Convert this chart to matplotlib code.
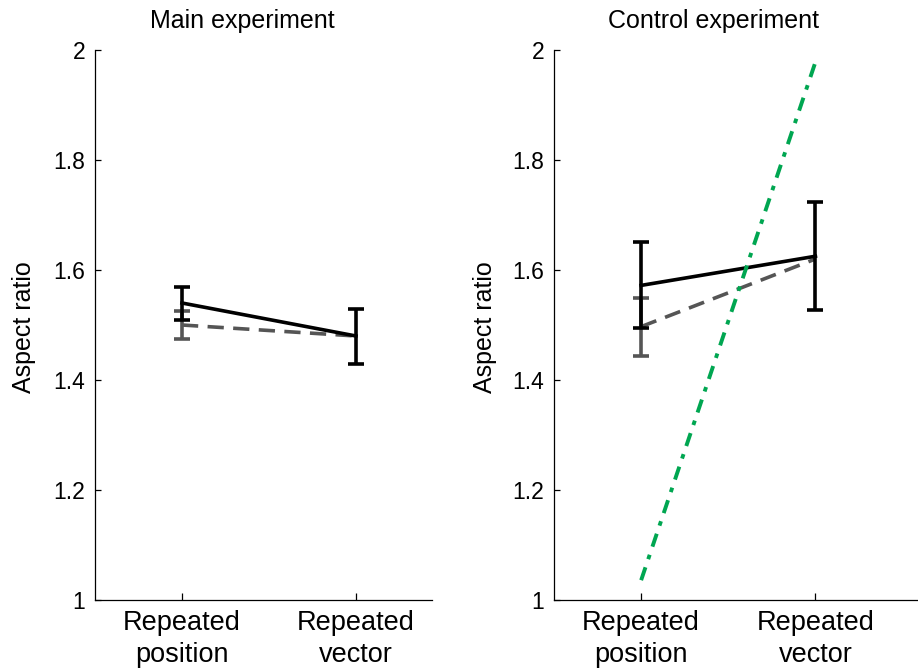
import matplotlib
matplotlib.use("Agg")
import matplotlib.pyplot as plt
import numpy as np

plt.rcParams['font.family'] = ['Liberation Sans', 'DejaVu Sans']

# Data
conditions = ["Repeated\nposition", "Repeated\nvector"]
x_pos = [1, 2]

# Main experiment
main_solid = [1.54, 1.48]
main_solid_err = [0.030, 0.050]
main_dashed = [1.50, 1.48]
main_dashed_err = [0.025]   # only the "position" bar is visible

# Control experiment
ctrl_solid = [1.572, 1.625]
ctrl_solid_err = [0.078, 0.098]
ctrl_dashed = [1.497, 1.62]
ctrl_dashed_err = [0.053]
ctrl_green = [1.036, 1.978]

yticks = [1, 1.2, 1.4, 1.6, 1.8, 2]
ytick_labels = ["1", "1.2", "1.4", "1.6", "1.8", "2"]

BLACK = "#000000"
GRAY = "#555555"
GREEN = "#00a651"

fig = plt.figure(figsize=(9.18, 6.71), dpi=100)
W, H = 918, 671

def px_axes(left, top, right, bottom):
    return fig.add_axes([left / W, 1 - bottom / H, (right - left) / W, (bottom - top) / H])

ax1 = px_axes(95, 50, 432, 600)
ax2 = px_axes(554, 50, 920, 600)


def style(ax, xlim):
    ax.set_ylim(1, 2)
    ax.set_xlim(*xlim)
    ax.set_xticks(x_pos)
    ax.set_xticklabels(conditions, fontsize=19.5, linespacing=1.3)
    ax.set_yticks(yticks)
    ax.set_yticklabels(ytick_labels, fontsize=16.5)
    ax.spines["top"].set_visible(False)
    ax.spines["right"].set_visible(False)
    for s in ["left", "bottom"]:
        ax.spines[s].set_linewidth(0.9)
    ax.tick_params(axis="y", direction="in", length=4, width=0.9, pad=7)
    ax.tick_params(axis="x", direction="in", length=5, width=0.9, pad=7)
    ax.patch.set_alpha(0)


def draw(ax, dashed, dashed_err, solid, solid_err):
    n = len(dashed_err)
    ax.plot(x_pos, dashed, color=GRAY, lw=2.6, dashes=(4.5, 2.6), zorder=2)
    ax.errorbar(x_pos[:n], dashed[:n], yerr=dashed_err, fmt="none", ecolor=GRAY,
                elinewidth=2.6, capsize=6, capthick=2.6, zorder=2)
    ax.errorbar(x_pos, solid, yerr=solid_err, color=BLACK, lw=2.6, elinewidth=2.6,
                capsize=6, capthick=2.6, zorder=3)


style(ax1, (0.5, 2.437))
draw(ax1, main_dashed, main_dashed_err, main_solid, main_solid_err)

style(ax2, (0.5, 2.6))
draw(ax2, ctrl_dashed, ctrl_dashed_err, ctrl_solid, ctrl_solid_err)
ax2.plot(x_pos, ctrl_green, color=GREEN, lw=2.8, dashes=(3.5, 2.2, 1.2, 2.2), zorder=4)

fig.text(242 / W, 1 - 21 / H, "Main experiment", fontsize=18, ha="center", va="center")
fig.text(713 / W, 1 - 21 / H, "Control experiment", fontsize=18, ha="center", va="center")
fig.text(24 / W, 1 - 327 / H, "Aspect ratio", fontsize=18, rotation=90, ha="center", va="center")
fig.text(485 / W, 1 - 327 / H, "Aspect ratio", fontsize=18, rotation=90, ha="center", va="center")

fig.savefig("out.png", dpi=100)
